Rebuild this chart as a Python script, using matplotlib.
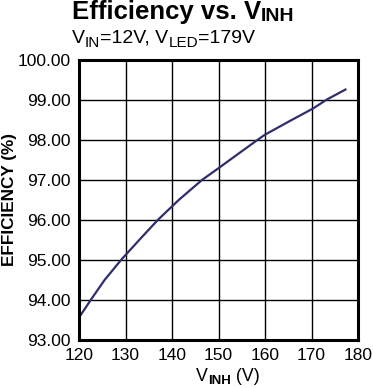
import matplotlib
matplotlib.use("Agg")
import matplotlib.pyplot as plt

plt.rcParams['font.family'] = ['Liberation Sans', 'DejaVu Sans']

vinh = [120.0, 122.7, 125.5, 129.1, 133.4, 137.0, 141.5, 146.5, 150.0, 154.6, 158.4, 160.0, 165.3, 170.4, 173.3, 177.3]
eff = [93.55, 94.02, 94.49, 95.00, 95.55, 96.00, 96.50, 97.00, 97.29, 97.68, 98.00, 98.13, 98.47, 98.79, 99.01, 99.26]
xticks = [120, 130, 140, 150, 160, 170, 180]
yticks = [93.0, 94.0, 95.0, 96.0, 97.0, 98.0, 99.0, 100.0]

W, H = 373, 388
fig = plt.figure(figsize=(W/100, H/100), dpi=100)
ax = fig.add_axes([79/W, 1-339.5/H, (358-79)/W, (339.5-60)/H])
ax.plot(vinh, eff, color='#2e2e6e', lw=1.6)
ax.set_xlim(120, 180)
ax.set_ylim(93, 100)
ax.set_xticks(xticks)
ax.set_yticks(yticks)
ax.set_yticklabels([f"{v:.2f}" for v in yticks])
ax.grid(True, color='black', lw=1.0)
ax.set_axisbelow(True)
for s in ax.spines.values():
    s.set_linewidth(2.2)
    s.set_color('black')
ax.tick_params(length=0, labelsize=12.5, pad=6)

fig.text(10/W, 1-199/H, 'EFFICIENCY (%)', fontsize=12.3, fontweight='bold',
         rotation=90, va='center', ha='center')

renderer = fig.canvas.get_renderer()


def runs_width(runs):
    total = 0
    for txt, size, weight, dy in runs:
        t = fig.text(0, 0, txt, fontsize=size, fontweight=weight)
        total += t.get_window_extent(renderer).width
        t.remove()
    return total


def draw_runs(x_px, y_px, runs, center=False):
    if center:
        x_px -= runs_width(runs) / 2
    x = x_px
    for txt, size, weight, dy in runs:
        t = fig.text(x / W, 1 - (y_px + dy) / H, txt, fontsize=size,
                     fontweight=weight, va='baseline', ha='left')
        x += t.get_window_extent(renderer).width


draw_runs(72, 18.5, [('Efficiency vs. V', 18.5, 'bold', 0), ('INH', 14, 'bold', 2.5)])
draw_runs(72, 42.7, [('V', 14, 'normal', 0), ('IN', 11, 'normal', 4),
                     ('=12V, V', 14, 'normal', 0), ('LED', 11, 'normal', 4),
                     ('=179V', 14, 'normal', 0)])
draw_runs(228, 380.7, [('V', 12.8, 'normal', 0), ('INH', 9.5, 'bold', 2.8),
                       (' (V)', 12.8, 'normal', 0)], center=True)

fig.savefig('out.png', dpi=100)
